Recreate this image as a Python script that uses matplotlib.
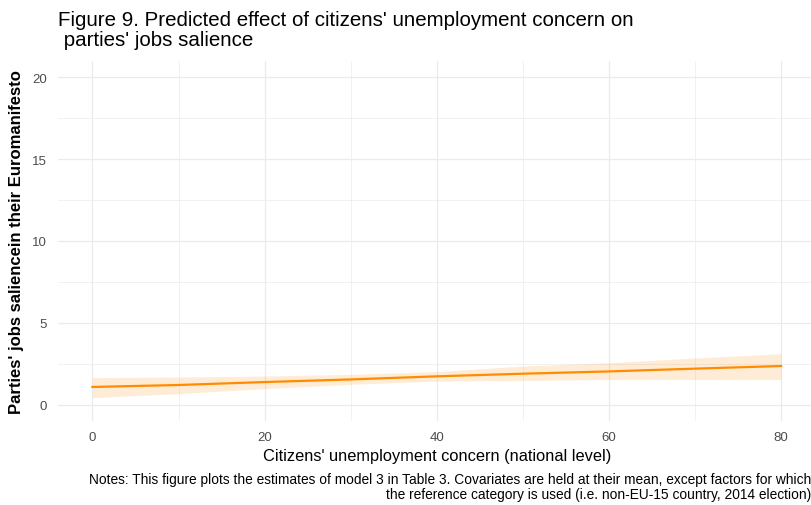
import matplotlib
matplotlib.use('Agg')
import matplotlib.pyplot as plt

# predicted values
concern = [0, 10, 20, 30, 40, 50, 60, 70, 80]
fit = [1.08, 1.20, 1.38, 1.54, 1.73, 1.89, 2.03, 2.20, 2.36]
lower = [0.43, 0.67, 0.98, 1.24, 1.44, 1.48, 1.53, 1.54, 1.54]
upper = [1.65, 1.69, 1.75, 1.85, 2.02, 2.36, 2.56, 2.85, 3.11]

x_ticks = [0, 20, 40, 60, 80]
y_ticks = [0, 5, 10, 15, 20]

plt.rcParams['font.family'] = ['Liberation Sans', 'DejaVu Sans']

fig = plt.figure(figsize=(8.12, 5.06), dpi=100)
ax = fig.add_axes([58 / 812, 1 - 422 / 506, 757.5 / 812, 360 / 506])

ax.fill_between(concern, lower, upper, color='#FF8C00', alpha=0.16, lw=0)
ax.plot(concern, fit, color='#FF8C00', lw=1.6)

ax.set_xlim(-4, 84)
ax.set_ylim(-1, 21)
ax.set_xticks(x_ticks)
ax.set_yticks(y_ticks)
ax.set_xticks(range(10, 80, 20), minor=True)
ax.set_yticks([2.5, 7.5, 12.5, 17.5], minor=True)
ax.grid(which='major', color='#EBEBEB', lw=0.9)
ax.grid(which='minor', color='#EBEBEB', lw=0.5)
ax.set_axisbelow(True)
for s in ax.spines.values():
    s.set_visible(False)
ax.tick_params(which='both', length=0, labelsize=9.5, labelcolor='#4D4D4D')
ax.tick_params(axis='x', pad=7)
ax.tick_params(axis='y', pad=8)

ax.set_xlabel("Citizens' unemployment concern (national level)", fontsize=11.8,
              labelpad=4)
ax.set_ylabel("Parties' jobs saliencein their Euromanifesto", fontsize=12,
              fontweight='bold', labelpad=6)

fig.text(58 / 812, 1 - 11 / 506,
         "Figure 9. Predicted effect of citizens' unemployment concern on\n parties' jobs salience",
         fontsize=14.8, va='top', ha='left', linespacing=1.1)

fig.text(811 / 812, 1 - 473 / 506,
         "Notes: This figure plots the estimates of model 3 in Table 3. Covariates are held at their mean, except factors for which\n"
         "the reference category is used (i.e. non-EU-15 country, 2014 election)",
         fontsize=9.9, ha='right', va='top', multialignment='right',
         linespacing=1.05)

fig.savefig('out.png', dpi=100)
